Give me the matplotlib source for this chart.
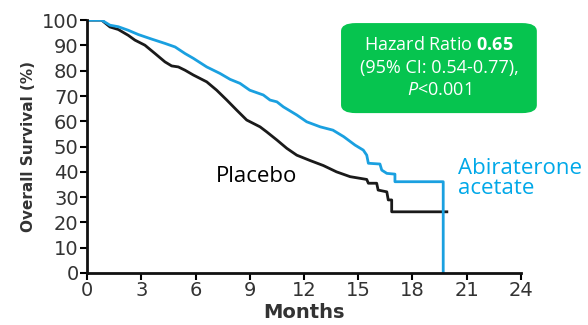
import matplotlib
matplotlib.use("Agg")
from matplotlib import pyplot as plt
from matplotlib.patches import FancyBboxPatch

# Kaplan-Meier curves (months, % surviving);
# the late steps are listed corner by corner
abi_months = [0, 0.81, 1.27, 1.73, 2.28, 2.84, 3.58, 4.31, 4.87, 5.42, 5.88, 6.62,
              7.36, 7.91, 8.46, 9.0, 9.75, 10.12, 10.5, 10.86, 11.6, 12.15, 12.9,
              13.6, 14.2, 14.82, 15.28, 15.47, 15.56, 16.2, 16.3, 16.58, 17.03,
              17.03, 19.7, 19.7]
abi_surv = [100, 100, 98, 97.4, 96, 94.3, 92.5, 90.8, 89.4, 86.8, 84.9, 81.5,
            78.9, 76.6, 75, 72.3, 70.4, 68.4, 67.7, 65.7, 62.5, 59.8, 57.8,
            56.5, 53.9, 50.6, 48.6, 46.6, 43.4, 43.1, 40.7, 39.4, 39.1,
            36.1, 36.1, 0]

pla_months = [0, 0.81, 1.27, 1.73, 2.28, 2.65, 3.2, 3.76, 4.31, 4.68, 5.05, 5.42,
              5.88, 6.62, 7.17, 7.73, 8.28, 8.83, 9.57, 9.94, 10.5, 11.05, 11.6,
              12.33, 13.07, 13.8, 14.55, 15.47, 15.56, 16.02, 16.1, 16.58, 16.66,
              16.85, 16.85, 19.9]
pla_surv = [100, 100, 97.3, 96.3, 94, 92.1, 90.1, 86.8, 83.5, 81.9, 81.5, 80.2,
            78.3, 75.6, 72.3, 68.4, 64.4, 60.5, 57.8, 55.8, 52.6, 49.3, 46.6,
            44.5, 42.5, 40, 38.1, 37, 35.5, 35.5, 32.8, 32.1, 28.9,
            28.9, 24.2, 24.2]

x_ticks = list(range(0, 25, 3))
y_ticks = list(range(0, 101, 10))

blue = "#1AA0E0"
label_blue = "#00A8E8"
green = "#06C44F"

fig = plt.figure(figsize=(5.88, 3.25), dpi=100)
ax = fig.add_axes([0.148, 0.16, 0.738, 0.778])

ax.plot(pla_months, pla_surv, color="#1a1a1a", lw=2)
ax.plot(abi_months, abi_surv, color=blue, lw=2)

ax.set_xlim(0, 24)
ax.set_ylim(0, 100)
ax.set_xticks(x_ticks)
ax.set_yticks(y_ticks)
for s in ["top", "right"]:
    ax.spines[s].set_visible(False)
for s in ["left", "bottom"]:
    ax.spines[s].set_linewidth(2)
    ax.spines[s].set_color("#111111")
ax.tick_params(direction="out", length=5, width=1.5, labelsize=14,
               labelcolor="#333333", pad=1)

ax.set_ylabel("Overall Survival (%)", fontsize=11, fontweight="bold",
              color="#333333", labelpad=4)
ax.set_xlabel("Months", fontsize=14, fontweight="bold", color="#333333", labelpad=2)

ax.text(9.35, 38, "Placebo", fontsize=16, family="Open Sans", color="black",
        ha="center", va="center")
ax.text(20.5, 37.5, "Abiraterone\nacetate", fontsize=16, family="Open Sans",
        color=label_blue, ha="left", va="center", linespacing=0.95, clip_on=False)

# hazard ratio box
box = FancyBboxPatch((0.58, 0.652), 0.333, 0.277, transform=fig.transFigure,
                     boxstyle="round,pad=0,rounding_size=0.025",
                     facecolor=green, edgecolor="none")
fig.patches.append(box)

plt.rcParams["mathtext.fontset"] = "custom"
plt.rcParams["mathtext.rm"] = "Open Sans"
plt.rcParams["mathtext.it"] = "Open Sans:italic"
plt.rcParams["mathtext.bf"] = "Open Sans:bold"

cx = 0.7465
fig.text(cx, 1 - 45 / 325, r"Hazard Ratio $\mathbf{0.65}$", fontsize=13,
         family="Open Sans", color="white", ha="center", va="center")
fig.text(cx, 1 - 68 / 325, "(95% CI: 0.54-0.77),", fontsize=13,
         family="Open Sans", color="white", ha="center", va="center")
fig.text(cx, 1 - 90 / 325, r"$\it{P}$<0.001", fontsize=13,
         family="Open Sans", color="white", ha="center", va="center")

fig.savefig("out.png", dpi=100)
